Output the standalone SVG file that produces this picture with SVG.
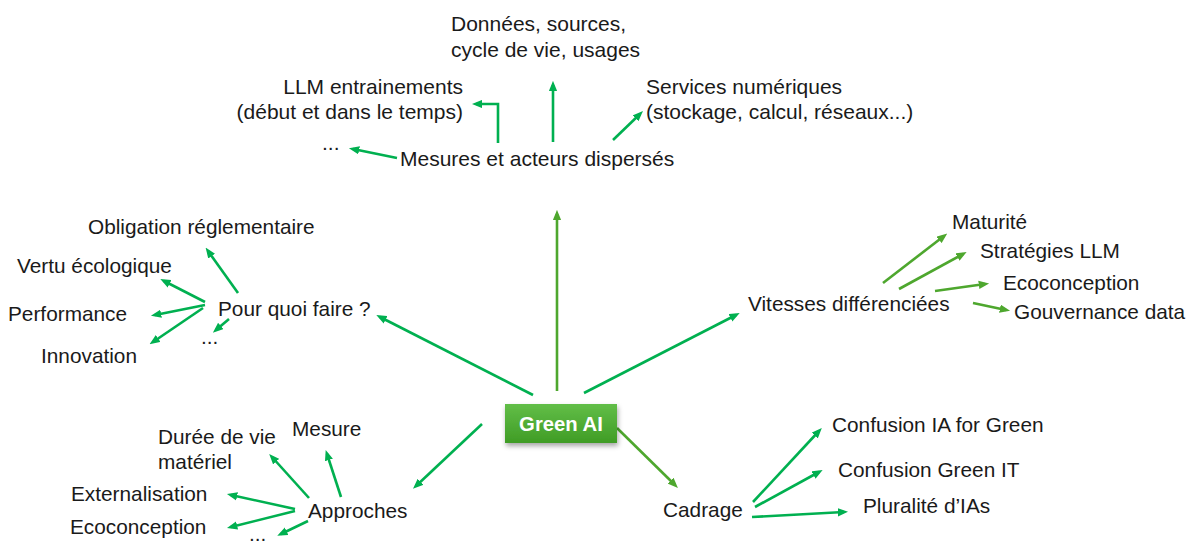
<svg xmlns="http://www.w3.org/2000/svg" width="1195" height="547" viewBox="0 0 1195 547">
<style>
text{font-family:"Liberation Sans",Arial,sans-serif;font-size:20.8px;fill:#1a1a1a}
.t{font-size:21px}
.a{fill:none;stroke:#00B050;stroke-width:2.6;marker-end:url(#ha)}
.b{fill:none;stroke:#4EA72E;stroke-width:2.6;marker-end:url(#hb)}
.g{font-weight:bold;fill:#fff;font-size:20.3px}
</style>
<defs>
<marker id="ha" viewBox="0 0 10 8" refX="6" refY="4" markerWidth="4" markerHeight="3.4" orient="auto" markerUnits="strokeWidth"><path d="M0,0 L10,4 L0,8 z" fill="#00B050"/></marker>
<marker id="hb" viewBox="0 0 10 8" refX="6" refY="4" markerWidth="4" markerHeight="3.4" orient="auto" markerUnits="strokeWidth"><path d="M0,0 L10,4 L0,8 z" fill="#4EA72E"/></marker>
<linearGradient id="gg" x1="0" y1="0" x2="0" y2="1"><stop offset="0" stop-color="#62BE48"/><stop offset="1" stop-color="#3F9C25"/></linearGradient>
<filter id="sh" x="-20%" y="-30%" width="140%" height="170%"><feDropShadow dx="1" dy="3" stdDeviation="2.5" flood-color="#000" flood-opacity="0.35"/></filter>
</defs>
<rect width="1195" height="547" fill="#fff"/>
<g id="connectors">
<line class="b" x1="557" y1="391" x2="557" y2="214"/>
<line class="a" x1="533" y1="395" x2="380" y2="317"/>
<line class="a" x1="584" y1="393" x2="736" y2="315"/>
<line class="a" x1="482" y1="424" x2="416" y2="486"/>
<line class="b" x1="617" y1="428" x2="675" y2="485"/>
<line class="a" x1="553" y1="142" x2="553" y2="85"/>
<polyline class="a" points="498,143 498,104 476,104"/>
<line class="a" x1="613" y1="140" x2="640" y2="114"/>
<line class="a" x1="397" y1="158" x2="353" y2="149"/>
<line class="a" x1="238" y1="293" x2="208" y2="251"/>
<line class="a" x1="205" y1="302" x2="164" y2="281"/>
<line class="a" x1="205" y1="305" x2="155" y2="315"/>
<line class="a" x1="203" y1="308" x2="153" y2="342"/>
<line class="a" x1="229" y1="319" x2="216" y2="330"/>
<line class="b" x1="883" y1="283" x2="944" y2="236"/>
<line class="b" x1="899" y1="289" x2="963" y2="254"/>
<line class="b" x1="935" y1="291" x2="985" y2="284"/>
<line class="b" x1="973" y1="303" x2="1006" y2="310"/>
<line class="a" x1="309" y1="498" x2="272" y2="457"/>
<line class="a" x1="341" y1="497" x2="327" y2="454"/>
<line class="a" x1="295" y1="509" x2="231" y2="495"/>
<line class="a" x1="295" y1="511" x2="231" y2="527"/>
<line class="a" x1="308" y1="521" x2="281" y2="534"/>
<line class="a" x1="753" y1="502" x2="819" y2="431"/>
<line class="a" x1="755" y1="507" x2="819" y2="472"/>
<line class="a" x1="752" y1="517" x2="844" y2="512"/>
</g>
<g id="green-ai"><rect x="505" y="404" width="112" height="39" fill="url(#gg)" filter="url(#sh)"/><text class="g" x="561" y="431" text-anchor="middle">Green AI</text></g>
<g id="mesures"><text class="t" x="400" y="166">Mesures et acteurs dispersés</text></g>
<g id="donnees"><text class="t" x="451" y="31">Données, sources,</text><text class="t" x="451" y="57">cycle de vie, usages</text></g>
<g id="llm"><text class="t" x="463" y="94" text-anchor="end">LLM entrainements</text><text class="t" x="463" y="119" text-anchor="end">(début et dans le temps)</text></g>
<g id="services"><text class="t" x="646" y="94">Services numériques</text><text class="t" x="646" y="119">(stockage, calcul, réseaux...)</text></g>
<g id="etc-top"><text class="t" x="322" y="150">...</text></g>
<g id="pourquoi"><text x="218" y="316">Pour quoi faire ?</text></g>
<g id="obligation"><text x="88" y="234">Obligation réglementaire</text></g>
<g id="vertu"><text x="17" y="273">Vertu écologique</text></g>
<g id="performance"><text x="8" y="321">Performance</text></g>
<g id="innovation"><text x="41" y="363">Innovation</text></g>
<g id="etc-left"><text x="201" y="344">...</text></g>
<g id="vitesses"><text x="748" y="311">Vitesses différenciées</text></g>
<g id="maturite"><text x="952" y="229">Maturité</text></g>
<g id="strategies"><text x="980" y="258">Stratégies LLM</text></g>
<g id="ecoconception-r"><text x="1003" y="290">Ecoconception</text></g>
<g id="gouvernance"><text x="1014" y="319">Gouvernance data</text></g>
<g id="approches"><text x="308" y="518">Approches</text></g>
<g id="duree"><text x="158" y="444">Durée de vie</text><text x="158" y="469">matériel</text></g>
<g id="mesure"><text x="292" y="436">Mesure</text></g>
<g id="externalisation"><text x="71" y="501">Externalisation</text></g>
<g id="ecoconception-l"><text x="70" y="534">Ecoconception</text></g>
<g id="etc-bottom"><text x="249" y="541">...</text></g>
<g id="cadrage"><text x="663" y="517">Cadrage</text></g>
<g id="confusion-ia"><text x="832" y="432">Confusion IA for Green</text></g>
<g id="confusion-it"><text x="838" y="477">Confusion Green IT</text></g>
<g id="pluralite"><text x="863" y="513">Pluralité d’IAs</text></g>
</svg>
